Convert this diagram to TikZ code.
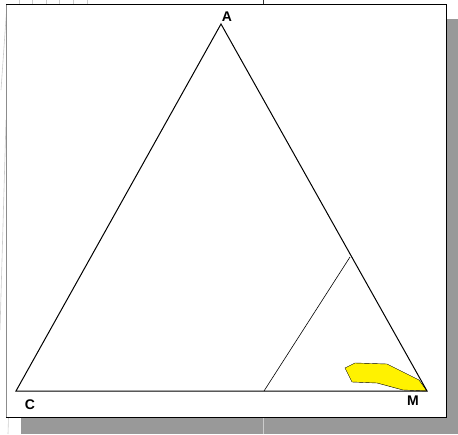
\documentclass[tikz,border=0pt]{standalone}
\usepackage{fontspec}
\setmainfont{Liberation Sans}
\usetikzlibrary{positioning}

\begin{document}
\begin{tikzpicture}[x=1pt,y=-1pt,
    corner/.style={font=\bfseries\fontsize{14}{16}\selectfont,inner sep=0pt},
    faint/.style={draw=black!20,line width=0.6pt}]
    \useasboundingbox (0,0) rectangle (458,434);

    % stray guide lines behind the frame
    \foreach \x in {19,32,46,59,73,87}
        \draw[faint] (\x,0) -- (\x,4);
    \draw[faint] (7,4) -- (1,90);
    \draw[faint] (6,120) -- (0,330);
    \draw[faint] (12,300) -- (8,434);
    \draw[black!80,line width=0.6pt] (263,0) -- (263,4);

    % shadow and frame
    \fill[black!40] (21,19) rectangle (458,434);
    \draw[faint] (263,418) -- (263,434);
    \fill[white] (6,4) rectangle (446,417);
    \draw[black!45,line width=0.8pt] (6,4) -- (6,417);
    \draw[line width=0.8pt] (6,4) -- (446,4) -- (446,417) -- (6,417);

    % vertices
    \coordinate (A) at (221,24);
    \coordinate (C) at (16,391);
    \coordinate (M) at (427,391);
    \node[corner] (lA) at (227,17) {A};
    \node[corner] (lC) at (30,405) {C};
    \node[corner] (lM) at (413,401) {M};

    % yellow field
    \filldraw[fill=yellow,draw=black,line width=0.4pt]
        (345,368) -- (355,363) -- (387,364) -- (419,380) -- (M)
        -- (403,390) -- (377,383) -- (352,382) -- cycle;

    % triangle
    \draw[line width=1pt,line join=miter] (A) -- (M) -- (C) -- cycle;

    % tie line
    \coordinate (base) at (264,391);
    \coordinate (side) at (350,257);
    \draw[line width=0.6pt] (base) -- (side);
\end{tikzpicture}
\end{document}
